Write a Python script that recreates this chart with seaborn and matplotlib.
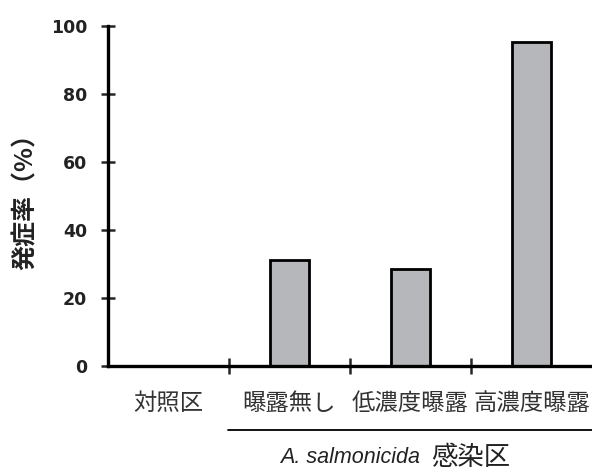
import matplotlib
matplotlib.use("Agg")
import matplotlib.pyplot as plt
import matplotlib.transforms as mtransforms
import seaborn as sns
import pandas as pd

categories = ["対照区", "曝露無し", "低濃度曝露", "高濃度曝露"]
values = [0, 31.2, 28.6, 95.4]
y_ticks = [0, 20, 40, 60, 80, 100]
y_label = "発症率（%）"
group_label_italic = "A. salmonicida"
group_label_jp = "感染区"

sns.set_theme(style="white")
plt.rcParams['font.family'] = ['Noto Sans CJK JP', 'DejaVu Sans']

df = pd.DataFrame({"cat": categories, "val": values})

fig = plt.figure(figsize=(5.92, 4.70), dpi=100)
ax = fig.add_axes([0.1824, 0.2213, 1 - 0.1824, 0.9447 - 0.2213])

sns.barplot(data=df, x="cat", y="val", ax=ax, width=0.33, color="#b5b7ba",
            saturation=1, edgecolor="black", linewidth=2.0)

ax.set_xlim(-0.5, 3.5)
ax.set_ylim(0, 100)
ax.set_yticks(y_ticks)
ax.set_yticklabels([str(t) for t in y_ticks], fontsize=12.5, fontweight="bold",
                   color="#222222", family="DejaVu Sans")
ax.set_xlabel("")
ax.set_ylabel(y_label, fontsize=18, fontweight="bold", labelpad=9, color="#222222")

for s in ["top", "right"]:
    ax.spines[s].set_visible(False)
for s in ["left", "bottom"]:
    ax.spines[s].set_color("black")
    ax.spines[s].set_linewidth(2.4)

ax.tick_params(axis="y", direction="inout", length=10, width=1.8, pad=10, left=True)
ax.set_xticks(range(len(categories)))
ax.set_xticklabels(categories, fontsize=16.8, color="#333333")
ax.tick_params(axis="x", which="major", length=0, pad=19, bottom=True)
ax.set_xticks([0.5, 1.5, 2.5], minor=True)
ax.tick_params(axis="x", which="minor", direction="inout", length=12, width=1.8, bottom=True)

trans = mtransforms.blended_transform_factory(ax.transData, fig.transFigure)
ax.plot([0.49, 3.5], [0.085, 0.085], transform=trans, color="black", lw=1.3, clip_on=False)
ax.text(2.079, 0.026, group_label_italic, transform=trans, ha="right", va="center",
        fontsize=15.5, style="italic", color="#222222", family="Liberation Sans")
ax.text(2.17, 0.026, group_label_jp, transform=trans, ha="left", va="center",
        fontsize=19, color="#222222")

fig.savefig("out.png", dpi=100)
